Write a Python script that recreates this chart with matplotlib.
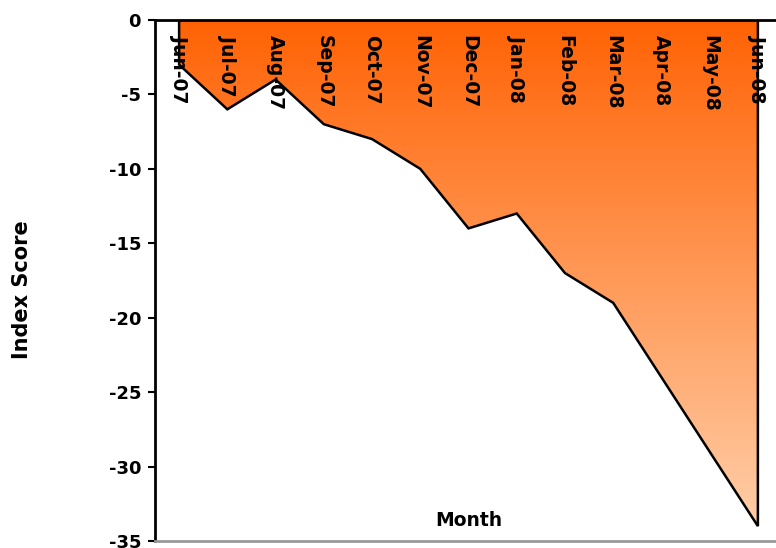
import numpy as np
import matplotlib
matplotlib.use("Agg")
import matplotlib.pyplot as plt
from matplotlib.colors import LinearSegmentedColormap
from matplotlib.patches import Polygon

months = ["Jun-07", "Jul-07", "Aug-07", "Sep-07", "Oct-07", "Nov-07", "Dec-07",
          "Jan-08", "Feb-08", "Mar-08", "Apr-08", "May-08", "Jun-08"]
scores = [-3, -6, -4, -7, -8, -10, -14, -13, -17, -19, -24, -29, -34]
y_ticks = [0, -5, -10, -15, -20, -25, -30, -35]

fig = plt.figure(figsize=(7.76, 5.48), dpi=100)
ax = fig.add_axes([155 / 776, 1 - 541 / 548, 627 / 776, 521 / 548])

x = np.arange(len(months))
ax.set_xlim(-0.5, len(months) - 0.5)
ax.set_ylim(-35, 0)

# gradient fill clipped to the area polygon
verts = [(x[0], 0)] + list(zip(x, scores)) + [(x[-1], 0)]
poly = Polygon(verts, closed=True, facecolor="none", edgecolor="black", lw=1.8, zorder=3)
ax.add_patch(poly)
cmap = LinearSegmentedColormap.from_list("orng", ["#ff6204", "#ffcea8"])
grad = np.linspace(0, 1, 256).reshape(-1, 1)
im = ax.imshow(grad, cmap=cmap, aspect="auto", extent=[x[0], x[-1], min(scores), 0],
               origin="upper", zorder=2)
im.set_clip_path(poly)

ax.spines["right"].set_visible(False)
ax.spines["left"].set_linewidth(2)
ax.spines["top"].set_linewidth(2)
ax.spines["top"].set_zorder(5)
ax.spines["bottom"].set_color("#999999")
ax.spines["bottom"].set_linewidth(2)

ax.set_yticks(y_ticks)
ax.set_yticklabels([str(v) for v in y_ticks], fontsize=13, fontweight="bold")
ax.tick_params(axis="y", direction="out", length=5, width=1.5, pad=5)

# category boundaries as ticks on the top axis
ax.xaxis.set_ticks_position("top")
ax.set_xticks(np.arange(0.5, len(months) - 0.5, 1.0))
ax.set_xticklabels([])
ax.tick_params(axis="x", direction="in", length=4, width=1.5)

for xi, m in zip(x, months):
    ax.text(xi, -1.0, m, rotation=270, ha="center", va="top", fontsize=13.5,
            fontweight="bold", zorder=6)

ax.text(6.0, -33.65, "Month", ha="center", va="center", fontsize=13.5, fontweight="bold")
fig.text(22 / 776, 1 - 290 / 548, "Index Score", rotation=90, ha="center", va="center",
         fontsize=15, fontweight="bold")

fig.savefig("out.png", dpi=100)
